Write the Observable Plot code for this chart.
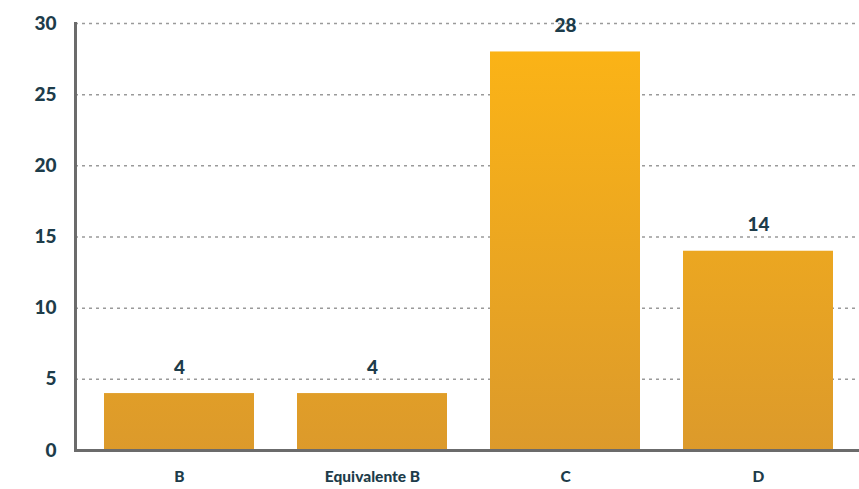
<!DOCTYPE html>
<html>
<head>
<meta charset="utf-8">
<script src="https://cdn.jsdelivr.net/npm/d3@7"></script>
<script src="https://cdn.jsdelivr.net/npm/@observablehq/plot@0.6"></script>
<style>
  html, body { margin: 0; padding: 0; background: #fff; }
  #chart svg { display: block; }
</style>
</head>
<body>
<div id="chart"></div>
<script>
const categories = ["B", "Equivalente B", "C", "D"];
const values = [4, 4, 28, 14];
const yTicks = [0, 5, 10, 15, 20, 25, 30];

const data = categories.map((c, i) => ({category: c, value: values[i]}));

const textColor = "#1d3c4a";
const axisColor = "#6b6b6b";
const font = "Lato, 'Open Sans', sans-serif";

const chart = Plot.plot({
  width: 859,
  height: 489,
  marginTop: 23,
  marginBottom: 39,
  marginLeft: 75,
  marginRight: 0,
  style: {fontFamily: font, background: "#fff"},
  x: {domain: categories, range: [75, 862], paddingInner: 0.223, paddingOuter: 0.15, label: null},
  y: {domain: [0, 30], ticks: yTicks, label: null},
  marks: [
    Plot.gridY(yTicks.filter(d => d > 0), {stroke: "#9a9a9a", strokeOpacity: 1, strokeWidth: 1.5, strokeDasharray: "3,4"}),
    Plot.barY(data, {x: "category", y: "value", fill: "url(#barGrad)"}),
    Plot.text(data, {x: "category", y: "value", text: d => String(d.value), dy: -26, fontSize: 19, fontWeight: 900, fill: textColor}),
    Plot.axisY({ticks: yTicks, tickSize: 0, tickPadding: 19, fontSize: 19, fontWeight: 900, fill: textColor, label: null}),
    Plot.axisX({tickSize: 0, tickPadding: 20, fontSize: 15.5, fontWeight: 900, fill: textColor, label: null}),
    Plot.frame({anchor: "left", stroke: axisColor, strokeWidth: 3}),
    Plot.ruleY([0], {stroke: axisColor, strokeWidth: 3})
  ]
});

const svg = d3.select(chart);
const defs = svg.insert("defs", ":first-child");
const grad = defs.append("linearGradient")
  .attr("id", "barGrad")
  .attr("gradientUnits", "userSpaceOnUse")
  .attr("x1", 0).attr("x2", 0)
  .attr("y1", 23).attr("y2", 450);
grad.append("stop").attr("offset", "0%").attr("stop-color", "#fdb515");
grad.append("stop").attr("offset", "100%").attr("stop-color", "#dc9a2b");

document.getElementById("chart").appendChild(chart);
</script>
</body>
</html>
